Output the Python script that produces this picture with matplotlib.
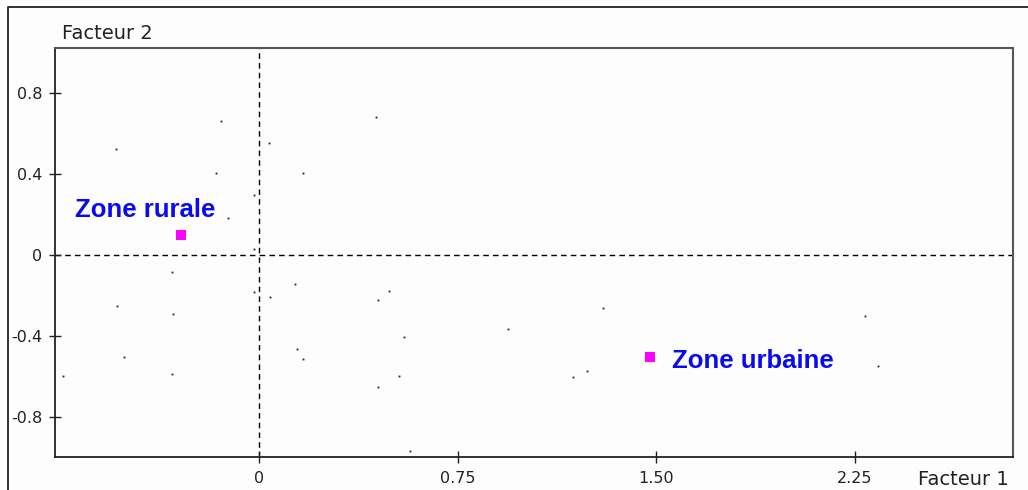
import numpy as np
import matplotlib.pyplot as plt
from matplotlib.lines import Line2D

# individual points (factor scores)
pts_x = [-0.540, -0.141, 0.038, -0.160, 0.168, -0.018, -0.118, -0.018,
         -0.328, -0.534, -0.322, -0.018, 0.044, 0.137, 0.145, 0.168,
         -0.508, -0.737, -0.328, 0.493, 0.449, 0.548, 0.529, 0.449,
         0.572, 0.940, 1.300, 1.187, 1.238, 2.289, 2.338, 0.443]
pts_y = [0.525, 0.663, 0.556, 0.404, 0.404, 0.297, 0.182, 0.030,
         -0.086, -0.254, -0.292, -0.185, -0.208, -0.145, -0.467, -0.513,
         -0.507, -0.597, -0.591, -0.178, -0.224, -0.408, -0.597, -0.652,
         -0.972, -0.368, -0.262, -0.606, -0.576, -0.300, -0.551, 0.685]

# category points
cat_names = ["Zone rurale", "Zone urbaine"]
cat_x = [-0.294, 1.478]
cat_y = [0.100, -0.503]

xticks = [0, 0.75, 1.50, 2.25]
xtick_labels = ["0", "0.75", "1.50", "2.25"]
yticks = [0.8, 0.4, 0, -0.4, -0.8]
ytick_labels = ["0.8", "0.4", "0", "-0.4", "-0.8"]

plt.rcParams['font.family'] = ['DejaVu Sans']

fig = plt.figure(figsize=(10.28, 4.90), dpi=100)
fig.patch.set_facecolor('#fdfdfd')
ax = fig.add_axes([0.0535, 0.0673, 0.9319, 0.8347])
ax.set_facecolor('#fdfdfd')

ax.set_xlim(-0.769, 2.846)
ax.set_ylim(-1.0, 1.025)

ax.axhline(0, color='black', lw=1.0, ls=(0, (4, 3)), zorder=1)
ax.axvline(0, color='black', lw=1.0, ls=(0, (4, 3)), zorder=1)

ax.plot(pts_x, pts_y, 's', color='#222222', markersize=1.3, mew=0, zorder=2)
ax.plot(cat_x, cat_y, 's', color='#ff00ff', markersize=6.8, mew=0, zorder=3)

# category labels (Arial-like bold)
lab_font = dict(family=['Liberation Sans', 'DejaVu Sans'], fontsize=18.5,
                fontweight='bold', color='#0a0af0', va='baseline', ha='left')
ax.text(cat_x[0] - 0.399, cat_y[0] + 0.090, cat_names[0], **lab_font)
ax.text(cat_x[1] + 0.080, cat_y[1] - 0.058, cat_names[1], **lab_font)

ax.set_xticks(xticks)
ax.set_xticklabels(xtick_labels)
ax.set_yticks(yticks)
ax.set_yticklabels(ytick_labels)
ax.tick_params(direction='inout', length=8.6, width=1.0, colors='#222222',
               labelsize=11.5, pad=5)
ax.tick_params(axis='x', pad=6)

for side in ['left', 'bottom']:
    ax.spines[side].set_color('#222222')
    ax.spines[side].set_linewidth(1.3)
for side in ['top', 'right']:
    ax.spines[side].set_color('#555555')
    ax.spines[side].set_linewidth(1.5)

fig.text(62 / 1028, 1 - 39 / 490, "Facteur 2", fontsize=14, color='#222222',
         ha='left', va='baseline')
fig.text(1009 / 1028, 1 - 485 / 490, "Facteur 1", fontsize=14, color='#222222',
         ha='right', va='baseline')

# outer window frame
fig.add_artist(Line2D([8 / 1028, 8 / 1028, 1.0], [0.0, 1 - 7 / 490, 1 - 7 / 490],
                      transform=fig.transFigure, color='#222222', lw=1.3))

fig.savefig('out.png', dpi=100, facecolor=fig.get_facecolor())
